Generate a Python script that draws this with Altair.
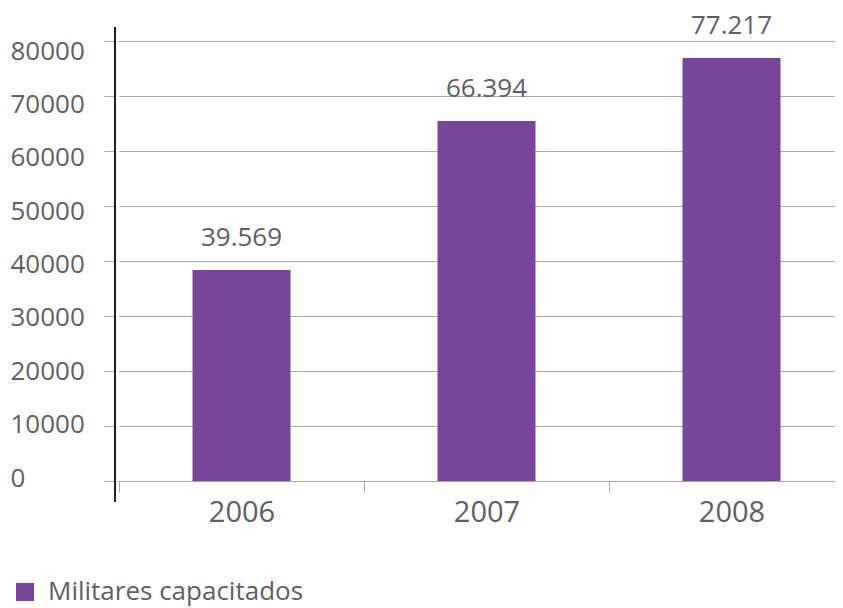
import altair as alt
import pandas as pd

years = ["2006", "2007", "2008"]
bar_values = [38360, 65450, 76910]
value_labels = ["39.569", "66.394", "77.217"]
series = ["Militares capacitados"] * 3

df = pd.DataFrame({"year": years, "value": bar_values, "label": value_labels, "serie": series})

FONT = "Open Sans"
TEXT = "#5f6064"
GRID = "#a9a9a9"
PURPLE = "#774699"

W, H = 720, 440

base = alt.Chart(df)

x = alt.X(
    "year:N",
    title=None,
    scale=alt.Scale(paddingInner=0, paddingOuter=0, range=[4, 739]),
    axis=alt.Axis(
        labelAngle=0, labelFontSize=29, labelFont=FONT, labelColor=TEXT,
        labelPadding=6, tickBand="extent", tickSize=11, tickColor=GRID,
        domainColor=GRID, grid=False,
    ),
)
y = alt.Y(
    "value:Q",
    title=None,
    scale=alt.Scale(domain=[0, 80000]),
    axis=alt.Axis(
        values=[0, 10000, 20000, 30000, 40000, 50000, 60000, 70000, 80000],
        format="d", labelFontSize=26, labelFont=FONT, labelColor=TEXT,
        labelAlign="left", labelPadding=94, labelBaseline="middle",
        labelOffset=alt.ExprRef("-3 + 13 * datum.value / 80000"),
        tickSize=11, tickColor=GRID, gridColor=GRID, domain=False,
    ),
)

bars = base.mark_bar(color=PURPLE, width=alt.RelativeBandSize(0.4)).encode(
    x=x,
    y=y,
    color=alt.Color(
        "serie:N",
        scale=alt.Scale(range=[PURPLE]),
        legend=alt.Legend(
            title=None, orient="none", legendX=-103, legendY=538,
            symbolType="square", symbolSize=324, symbolStrokeWidth=0,
            labelFontSize=26, labelFont=FONT, labelColor=TEXT, labelOffset=10,
            labelLimit=0,
        ),
    ),
)

texts = base.mark_text(dy=-24, baseline="alphabetic", fontSize=26, font=FONT, color=TEXT).encode(
    x=alt.X("year:N"), y=alt.Y("value:Q"), text="label:N"
)

yline = base.mark_rule(color="black", strokeWidth=1).encode(
    x=alt.value(0), y=alt.value(-14), y2=alt.value(461)
)

chart = alt.layer(bars, texts, yline).properties(
    width=W, height=H,
    padding={"left": 107, "top": 33, "right": 0, "bottom": 127},
    autosize=alt.AutoSizeParams(type="none"),
).configure_view(stroke=None).configure(background="white")

chart.save("out.html", embed_options={"renderer": "svg", "actions": False})
